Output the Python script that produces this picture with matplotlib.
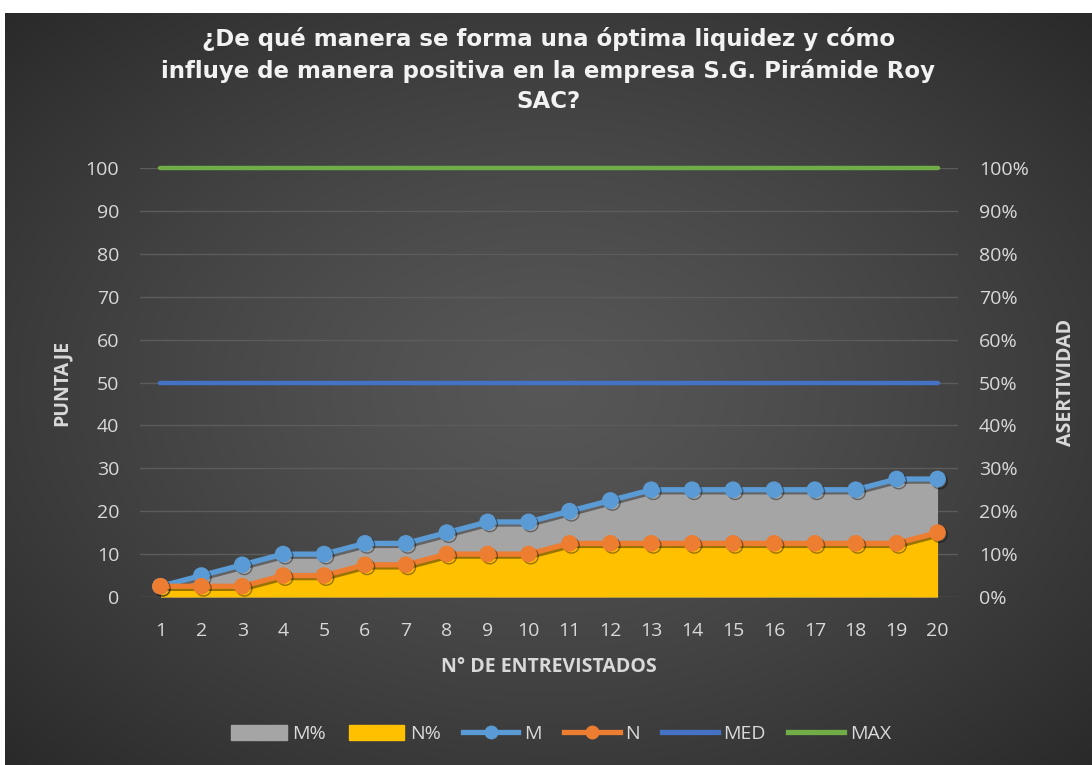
import numpy as np
import matplotlib
matplotlib.use("Agg")
import matplotlib.pyplot as plt
from matplotlib.lines import Line2D
from matplotlib.patches import Patch
import matplotlib.patheffects as pe

# data
entrevistados = list(range(1, 21))
m_vals = [2.5, 5, 7.5, 10, 10, 12.5, 12.5, 15, 17.5, 17.5, 20, 22.5, 25, 25, 25, 25, 25, 25, 27.5, 27.5]
n_vals = [2.5, 2.5, 2.5, 5, 5, 7.5, 7.5, 10, 10, 10, 12.5, 12.5, 12.5, 12.5, 12.5, 12.5, 12.5, 12.5, 12.5, 15]
m_pct = [v / 100 for v in m_vals]
n_pct = [v / 100 for v in n_vals]
med_vals = [50] * 20
max_vals = [100] * 20
y_ticks = list(range(0, 101, 10))

title = "¿De qué manera se forma una óptima liquidez y cómo\ninfluye de manera positiva en la empresa S.G. Pirámide Roy\nSAC?"

txt = "#d9d9d9"
plt.rcParams["font.family"] = ["Open Sans", "DejaVu Sans"]

fig = plt.figure(figsize=(10.92, 7.65), dpi=100, facecolor="white")

# radial gradient background
bg = fig.add_axes([5 / 1092, 0, 1 - 5 / 1092, 1 - 13 / 765], zorder=-10)
yy, xx = np.mgrid[0:1:400j, 0:1:600j]
r = np.sqrt(((xx - 0.5) / 0.75) ** 2 + ((yy - 0.5) / 0.75) ** 2)
shade = 0.34 - 0.19 * np.clip(r, 0, 1) ** 1.3
bg.imshow(np.dstack([shade] * 3), aspect="auto", extent=[0, 1, 0, 1])
bg.axis("off")

ax = fig.add_axes([140 / 1092, 1 - 597 / 765, 818 / 1092, 429 / 765])
ax.set_facecolor("none")
ax2 = ax.twinx()

# gridlines sit under the areas
ax2.set_ylim(0, 1)
ax2.set_yticks([t / 100 for t in y_ticks])
ax2.set_yticklabels([f"{t}%" for t in y_ticks])
ax2.grid(axis="y", color="#5c5c5c", lw=1)
ax2.set_axisbelow(True)

# areas on secondary axis
ax2.fill_between(entrevistados, 0, m_pct, color="#a5a5a5", lw=0, zorder=1)
ax2.fill_between(entrevistados, 0, n_pct, color="#ffc000", lw=0, zorder=2)

ax.set_zorder(ax2.get_zorder() + 1)
shadow = [pe.SimpleLineShadow(offset=(1.5, -1.5), alpha=0.4), pe.Normal()]
ax.plot(entrevistados, med_vals, color="#4472c4", lw=3.2, solid_capstyle="round", zorder=3)
ax.plot(entrevistados, max_vals, color="#70ad47", lw=3.2, solid_capstyle="round", zorder=3, clip_on=False)
ax.plot(entrevistados, m_vals, color="#5b9bd5", lw=3.8, marker="o", ms=11, zorder=5,
        path_effects=shadow)
ax.plot(entrevistados, n_vals, color="#ed7d31", lw=3.8, marker="o", ms=11, zorder=6,
        path_effects=shadow, clip_on=False)

ax.set_xlim(0.5, 20.5)
ax.set_ylim(0, 100)
ax.set_xticks(entrevistados)
ax.set_yticks(y_ticks)

for a in (ax, ax2):
    for s in a.spines.values():
        s.set_visible(False)
    a.tick_params(length=0, colors=txt, labelsize=14)
ax.tick_params(axis="x", pad=18)
ax.tick_params(axis="y", pad=15)
ax2.tick_params(axis="y", pad=15)

ax.set_ylabel("PUNTAJE", color=txt, fontsize=14, fontweight="bold", labelpad=10)
ax2.set_ylabel("ASERTIVIDAD", color=txt, fontsize=14, fontweight="bold", rotation=90, labelpad=20)
ax.set_xlabel("N° DE ENTREVISTADOS", color=txt, fontsize=14, fontweight="bold", labelpad=12)

fig.text(0.502, 1 - 70 / 765, title, ha="center", va="center", color="#f2f2f2",
         fontsize=16.5, fontweight="bold", linespacing=1.4, family=["DejaVu Sans"])

handles = [
    Patch(color="#a5a5a5", label="M%"),
    Patch(color="#ffc000", label="N%"),
    Line2D([], [], color="#5b9bd5", lw=3.8, marker="o", ms=9, label="M"),
    Line2D([], [], color="#ed7d31", lw=3.8, marker="o", ms=9, label="N"),
    Line2D([], [], color="#4472c4", lw=3.8, label="MED"),
    Line2D([], [], color="#70ad47", lw=3.8, label="MAX"),
]
leg = fig.legend(handles=handles, loc="center", bbox_to_anchor=(561 / 1092, 1 - 734 / 765), ncol=6,
                 frameon=False, fontsize=14, labelcolor=txt, handlelength=2.85, handleheight=0.85,
                 columnspacing=1.15, handletextpad=0.3)

fig.savefig("out.png", dpi=100, facecolor="white")
